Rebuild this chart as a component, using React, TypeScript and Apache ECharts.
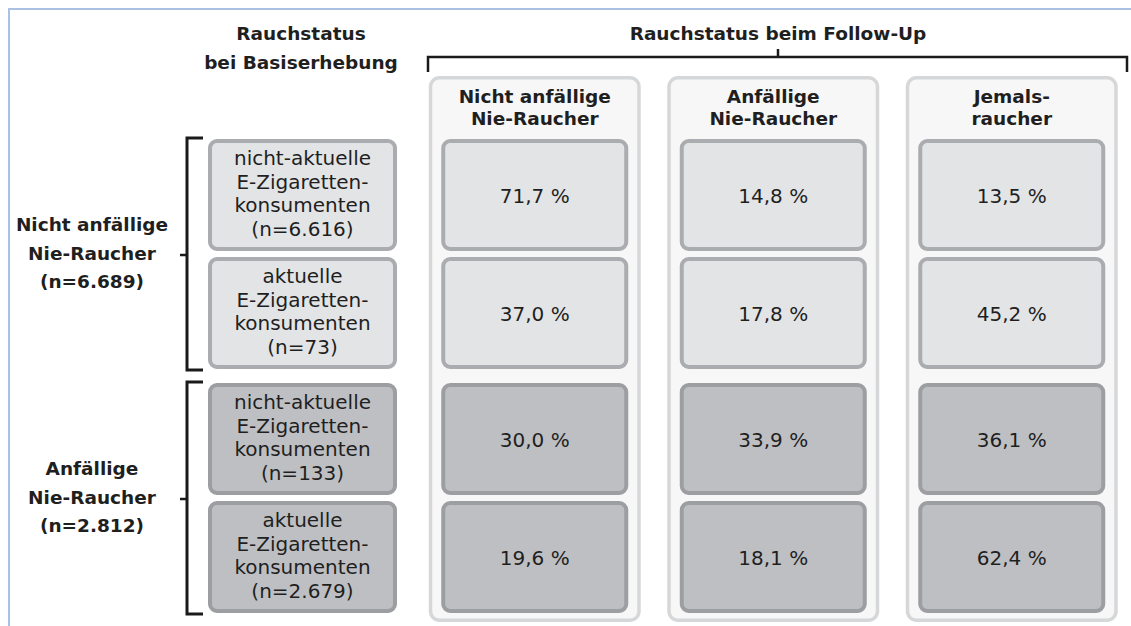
import React, { useEffect, useRef } from "react";
import * as echarts from "echarts";

// ---- data ----
const leftHeader = "Rauchstatus\nbei Basiserhebung";
const topHeader = "Rauchstatus beim Follow-Up";
const baselineGroups = ["Nicht anfällige\nNie-Raucher\n(n=6.689)", "Anfällige\nNie-Raucher\n(n=2.812)"];
const baselineRows = [
  "nicht-aktuelle\nE-Zigaretten-\nkonsumenten\n(n=6.616)",
  "aktuelle\nE-Zigaretten-\nkonsumenten\n(n=73)",
  "nicht-aktuelle\nE-Zigaretten-\nkonsumenten\n(n=133)",
  "aktuelle\nE-Zigaretten-\nkonsumenten\n(n=2.679)",
];
const rowGroup = [0, 0, 1, 1];
const followUpCategories = ["Nicht anfällige\nNie-Raucher", "Anfällige\nNie-Raucher", "Jemals-\nraucher"];
const pctNichtAnfaellig = [71.7, 37.0, 30.0, 19.6];
const pctAnfaellig = [14.8, 17.8, 33.9, 18.1];
const pctJemals = [13.5, 45.2, 36.1, 62.4];
const followUpValues = [pctNichtAnfaellig, pctAnfaellig, pctJemals];

// ---- style ----
const FONT = '"DejaVu Sans", sans-serif';
const TEXT = "#1f1f1f";
const HEAD_SIZE = 18.5;
const BODY_SIZE = 20;
const CELL_H = 112;
const INNER_GAP = 6;
const RIGHT_CELL_W = 187;
const PANEL_W = 212;
const fills = [
  { fill: "#e3e4e6", stroke: "#abacaf" },
  { fill: "#bebfc3", stroke: "#9d9ea2" },
];

const fmt = (v: number) => v.toFixed(1).replace(".", ",") + " %";

function cellCenterY(api: any, r: number) {
  const g = rowGroup[r];
  const idx = rowGroup.map((gg, i) => (gg === g ? i : -1)).filter((i) => i >= 0);
  const ys = idx.map((i) => api.coord([0, i])[1]);
  const center = ys.reduce((a, b) => a + b, 0) / ys.length;
  const sub = idx.indexOf(r);
  return center + (sub - (idx.length - 1) / 2) * (CELL_H + INNER_GAP);
}

function cellShape(cx: number, cy: number, w: number, r: number, sw: number) {
  const group = rowGroup[r];
  return {
    type: "rect",
    shape: { x: cx - w / 2 + sw / 2, y: cy - CELL_H / 2 + sw / 2, width: w - sw, height: CELL_H - sw, r: 7 },
    style: { fill: fills[group].fill, stroke: fills[group].stroke, lineWidth: sw },
  };
}

function textEl(text: string, x: number, y: number, size: number, weight: any, lineHeight: number) {
  return {
    type: "text",
    style: {
      text,
      x,
      y,
      align: "center",
      verticalAlign: "middle",
      textAlign: "center",
      textVerticalAlign: "middle",
      fontFamily: FONT,
      fontSize: size,
      fontWeight: weight,
      lineHeight,
      fill: TEXT,
    },
  };
}

const rowKeys = baselineRows.map((_, i) => "r" + i);

const cellData: number[][] = [];
followUpValues.forEach((vals, c) => vals.forEach((v, r) => cellData.push([c, r, v])));

const option: any = {
  animation: false,
  grid: [
    { left: 208, top: 132, width: 189, height: 488 },
    { left: 415.5, top: 132, width: 723, height: 488 },
  ],
  xAxis: [
    { gridIndex: 0, type: "category", data: ["Basiserhebung"], show: false },
    {
      gridIndex: 1,
      type: "category",
      data: followUpCategories,
      position: "top",
      z: 10,
      axisLine: { show: false },
      axisTick: { show: false },
      splitLine: { show: false },
      axisLabel: {
        interval: 0,
        margin: 2,
        fontFamily: FONT,
        fontSize: HEAD_SIZE,
        fontWeight: "bold",
        lineHeight: 22.5,
        color: TEXT,
      },
    },
  ],
  yAxis: [
    { gridIndex: 0, type: "category", data: rowKeys, inverse: true, show: false },
    { gridIndex: 1, type: "category", data: rowKeys, inverse: true, show: false },
  ],
  graphic: {
    elements: [
      { type: "line", silent: true, shape: { x1: 8, y1: 9, x2: 1131, y2: 9 }, style: { stroke: "#a9c2e4", lineWidth: 2 } },
      { type: "line", silent: true, shape: { x1: 9, y1: 8, x2: 9, y2: 626 }, style: { stroke: "#a9c2e4", lineWidth: 2 } },
      {
        type: "text",
        silent: true,
        x: 301,
        y: 47.5,
        style: {
          text: leftHeader, align: "center", verticalAlign: "middle", textAlign: "center", textVerticalAlign: "middle",
          fontFamily: FONT, fontSize: HEAD_SIZE, fontWeight: "bold", lineHeight: 29, fill: TEXT,
        },
      },
      {
        type: "text",
        silent: true,
        x: 778,
        y: 33,
        style: {
          text: topHeader, align: "center", verticalAlign: "middle", textAlign: "center", textVerticalAlign: "middle",
          fontFamily: FONT, fontSize: HEAD_SIZE, fontWeight: "bold", fill: TEXT,
        },
      },
      {
        type: "polyline",
        silent: true,
        shape: { points: [[428, 72], [428, 57], [1127, 57], [1127, 72]] },
        style: { stroke: "#1a1a1a", lineWidth: 2.5, fill: "none" },
      },
      { type: "line", silent: true, shape: { x1: 778, y1: 49, x2: 778, y2: 57 }, style: { stroke: "#1a1a1a", lineWidth: 2.5 } },
    ],
  },
  series: [
    {
      type: "custom",
      name: "panels",
      xAxisIndex: 1,
      yAxisIndex: 1,
      silent: true,
      z: 1,
      data: followUpCategories.map((_, i) => [i, 0]),
      renderItem: (params: any, api: any) => {
        const cs = params.coordSys;
        const cx = api.coord([api.value(0), 0])[0];
        const sw = 3.5;
        return {
          type: "rect",
          shape: { x: cx - PANEL_W / 2 + sw / 2, y: cs.y - 56 + sw / 2, width: PANEL_W - sw, height: cs.height + 58 - sw, r: 9 },
          style: { fill: "#f7f7f7", stroke: "#d6d7d9", lineWidth: sw },
        };
      },
    },
    {
      type: "custom",
      name: "Rauchstatus beim Follow-Up",
      xAxisIndex: 1,
      yAxisIndex: 1,
      silent: true,
      z: 3,
      data: cellData,
      renderItem: (params: any, api: any) => {
        const c = api.value(0);
        const r = api.value(1);
        const v = api.value(2);
        const cx = api.coord([c, r])[0];
        const cy = cellCenterY(api, r);
        return {
          type: "group",
          children: [cellShape(cx, cy, RIGHT_CELL_W, r, 4), textEl(fmt(v), cx, cy + 1, BODY_SIZE, "normal", 24)],
        };
      },
    },
    {
      type: "custom",
      name: "Basiserhebung",
      xAxisIndex: 0,
      yAxisIndex: 0,
      silent: true,
      z: 3,
      data: baselineRows.map((_, r) => [0, r]),
      renderItem: (params: any, api: any) => {
        const r = api.value(1);
        const cx = api.coord([0, r])[0];
        const w = api.size([1, 0])[0];
        const cy = cellCenterY(api, r);
        return {
          type: "group",
          children: [cellShape(cx, cy, w, r, 4), textEl(baselineRows[params.dataIndex], cx, cy - 1.5, BODY_SIZE, "normal", 23.5)],
        };
      },
    },
    {
      type: "custom",
      name: "Gruppen",
      xAxisIndex: 0,
      yAxisIndex: 0,
      silent: true,
      z: 3,
      data: baselineGroups.map((_, g) => [0, rowGroup.indexOf(g)]),
      renderItem: (params: any, api: any) => {
        const g = params.dataIndex;
        const cs = params.coordSys;
        const idx = rowGroup.map((gg, i) => (gg === g ? i : -1)).filter((i) => i >= 0);
        const ys = idx.map((i) => api.coord([0, i])[1]);
        const center = ys.reduce((a, b) => a + b, 0) / ys.length;
        const half = (idx.length * (CELL_H + INNER_GAP) - INNER_GAP) / 2 + 1;
        const top = center - half;
        const bottom = center + half;
        const bx = cs.x - 21;
        return {
          type: "group",
          children: [
            {
              type: "polyline",
              shape: { points: [[cs.x - 5, top], [bx, top], [bx, bottom], [cs.x - 5, bottom]] },
              style: { stroke: "#1a1a1a", lineWidth: 3, fill: "none" },
            },
            {
              type: "line",
              shape: { x1: bx - 7, y1: center + 1, x2: bx, y2: center + 1 },
              style: { stroke: "#1a1a1a", lineWidth: 2.5 },
            },
            textEl(baselineGroups[g], cs.x - 116, center - 1, HEAD_SIZE, "bold", 28.5),
          ],
        };
      },
    },
  ],
};

export default function App() {
  const ref = useRef<HTMLDivElement>(null);
  useEffect(() => {
    document.body.style.margin = "0";
    const chart = echarts.init(ref.current as HTMLDivElement, null, { renderer: "svg" });
    chart.setOption(option);
    return () => chart.dispose();
  }, []);
  return <div ref={ref} style={{ width: 1131, height: 626 }} />;
}
